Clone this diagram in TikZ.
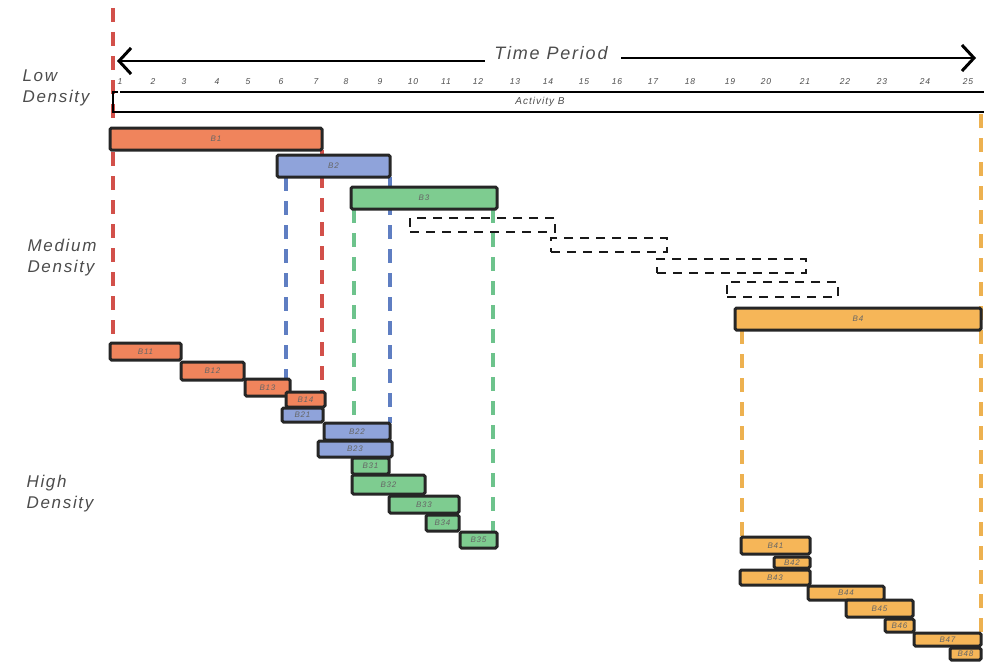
\documentclass[tikz,border=0pt]{standalone}
\usepackage{fontspec}
\newfontfamily\handfont[LetterSpace=10]{Liberation Sans Italic}
\usetikzlibrary{arrows.meta,fit,positioning,backgrounds}
\definecolor{redbar}{HTML}{F0845C}
\definecolor{bluebar}{HTML}{8FA3DA}
\definecolor{greenbar}{HTML}{7ECC90}
\definecolor{orangebar}{HTML}{F6B658}
\definecolor{redline}{HTML}{D2504A}
\definecolor{blueline}{HTML}{5F7EC2}
\definecolor{greenline}{HTML}{6DC38C}
\definecolor{orangeline}{HTML}{EDB150}

\begin{document}
\begin{tikzpicture}[x=1pt,y=-1pt,
	bar/.style={draw=black!85,line width=3pt,rounded corners=1.5pt,inner sep=0pt,outer sep=0pt},
	bartext/.style={font=\handfont\fontsize{8}{8}\selectfont,text=black!60},
	hand/.style={font=\handfont\fontsize{17}{21}\selectfont,text=black!70,align=left},
	num/.style={font=\handfont\fontsize{8.5}{9}\selectfont,text=black!70,inner sep=1pt},
	ghost/.style={draw=black!90,line width=2.6pt,dash pattern=on 9pt off 7pt,inner sep=0pt},
	guide/.style={line width=3.2pt,dash pattern=on 14pt off 10pt},
	timearrow/.style={line width=2.8pt,-{Straight Barb[length=12pt,width=26pt,line width=3pt]}}]
	\useasboundingbox (0,0) rectangle (984,661);

	% row labels
	\node[hand] (low) at (56,88) {Low\\Density};
	\node[hand] (medium) at (62,258) {Medium\\Density};
	\node[hand] (high) at (60,494) {High\\Density};

	% time axis
	\node[hand,font=\handfont\fontsize{18}{20}\selectfont] (period) at (551,53) {Time Period};
	\coordinate (tl) at (117,61);
	\coordinate (tr) at (976,58);
	\draw[timearrow] ([xshift=-6pt]period.west |- tl) -- (tl);
	\draw[timearrow] ([xshift=10pt]period.east |- tr) -- (tr);
	\foreach \x [count=\i] in {120,153,184,217,248,281,316,346,380,413,446,478,515,548,584,617,653,690,730,766,805,845,882,925,968}
		\node[num] (t\i) at (\x,82) {\i};
	\draw[line width=2.4pt] (120,92) -- (984,92);
	\draw[line width=2.4pt] (118,92) -- (113,92) -- (113,112) -- (984,112);
	\node[num,font=\handfont\fontsize{10}{10}\selectfont] (actb) at (540,102) {Activity B};

	% bars
	\foreach \n/\c/\xa/\ya/\xb/\yb in {
		1/redbar/110/128/322/150, 2/bluebar/277/155/390/177,
		3/greenbar/351/187/497/209, 4/orangebar/735/308/981/330,
		11/redbar/110/343/181/360, 12/redbar/181/362/244/380,
		13/redbar/245/379/290/396, 14/redbar/286/392/325/407,
		21/bluebar/282/408/323/422, 22/bluebar/324/423/390/440,
		23/bluebar/318/441/392/457,
		31/greenbar/352/458/389/474, 32/greenbar/352/475/425/494,
		33/greenbar/389/496/459/513, 34/greenbar/426/515/459/531,
		35/greenbar/460/532/497/548,
		41/orangebar/741/537/810/554, 42/orangebar/774/557/810/568,
		43/orangebar/740/570/810/585, 44/orangebar/808/586/884/600,
		45/orangebar/846/600/913/617, 46/orangebar/885/619/914/632,
		47/orangebar/914/633/981/646, 48/orangebar/950/648/981/660}
		\node[bar,fill=\c,fit={(\xa,\ya) (\xb,\yb)},label={[bartext]center:B\n}] (b\n) {};

	% shifted activity ghosts
	\node[ghost,fit={(410,218) (555,232)}] (g1) {};
	\node[ghost,fit={(551,238) (667,252)}] (g2) {};
	\node[ghost,fit={(657,259) (806,273)}] (g3) {};
	\node[ghost,fit={(727,282) (838,297)}] (g4) {};

	% guides
	\coordinate (redtop) at (113,8);
	\coordinate (orangetop) at (981,114);
	\begin{scope}[on background layer]
	\draw[guide,redline] (redtop) -- (redtop |- b11.north);
	\draw[guide,redline] (b1.south east) -- (b1.south east |- b14.north);
	\draw[guide,blueline] ([xshift=9pt]b2.south west) -- ([xshift=9pt]b2.south west |- b13.north);
	\draw[guide,blueline] (b2.south east) -- (b2.south east |- b22.north);
	\draw[guide,greenline] ([xshift=3pt]b3.south west) -- ([xshift=3pt]b3.south west |- b22.north);
	\draw[guide,greenline] ([xshift=-4pt]b3.south east) -- ([xshift=-4pt]b3.south east |- b35.north);
	\draw[guide,orangeline] ([xshift=7pt]b4.south west) -- ([xshift=7pt]b4.south west |- b41.north);
	\draw[guide,orangeline] (orangetop) -- (orangetop |- b47.north);
	\end{scope}
\end{tikzpicture}
\end{document}
